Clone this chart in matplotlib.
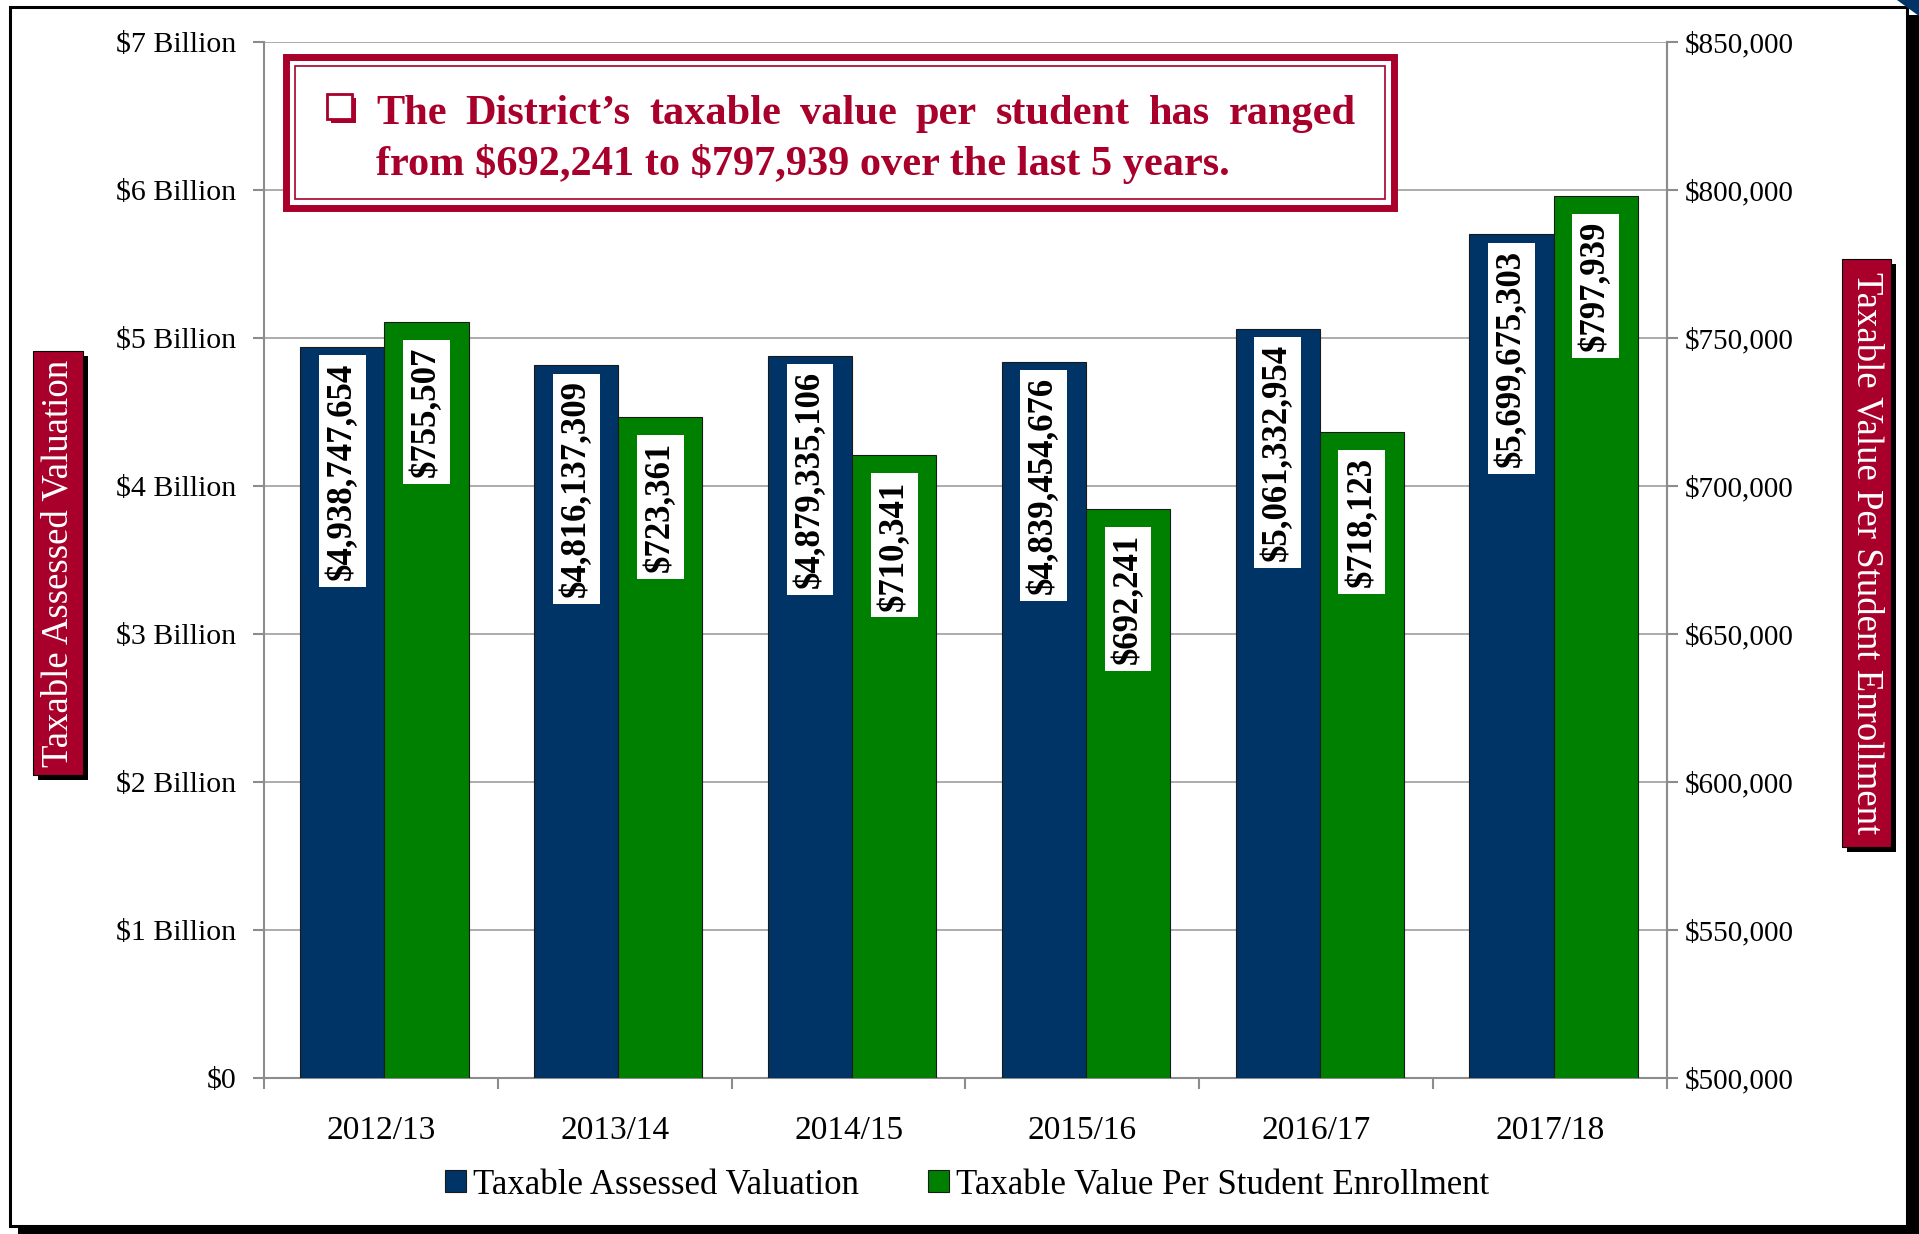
import matplotlib.pyplot as plt
from matplotlib.patches import Rectangle, Polygon
import numpy as np

# Dados do gráfico
anos = ['2012/13', '2013/14', '2014/15', '2015/16', '2016/17', '2017/18']
valor_avaliado = [4938747654, 4816137309, 4879335106, 4839454676, 5061332954, 5699675303]
valor_por_aluno = [755507, 723361, 710341, 692241, 718123, 797939]

ticks_esq = [0, 1e9, 2e9, 3e9, 4e9, 5e9, 6e9, 7e9]
rotulos_esq = ['$0', '$1 Billion', '$2 Billion', '$3 Billion', '$4 Billion',
               '$5 Billion', '$6 Billion', '$7 Billion']
ticks_dir = [500000, 550000, 600000, 650000, 700000, 750000, 800000, 850000]

legenda = ['Taxable Assessed Valuation', 'Taxable Value Per Student Enrollment']
titulo_esq = 'Taxable Assessed Valuation'
titulo_dir = 'Taxable Value Per Student Enrollment'
linha1 = 'The District\u2019s taxable value per student has ranged'
linha2 = 'from $692,241 to $797,939 over the last 5 years.'

AZUL = '#003366'
VERDE = '#008000'
VERMELHO = '#A8002B'
CINZA = '#8C8C8C'
SERIF = ['Liberation Serif', 'DejaVu Serif']

plt.rcParams['font.family'] = SERIF
plt.rcParams['text.parse_math'] = False

W, H = 1919, 1234
fig = plt.figure(figsize=(W / 100, H / 100), dpi=100)


def fx(x):
    return x / W


def fy(y):
    return 1 - y / H


# Moldura externa com sombra
fig.patches.append(Rectangle((fx(18), fy(1234)), fx(1919) - fx(18), fy(15) - fy(1234),
                             transform=fig.transFigure, fc='black', ec='none', zorder=-3))
fig.patches.append(Rectangle((fx(10), fy(1226)), fx(1907) - fx(10), fy(7) - fy(1226),
                             transform=fig.transFigure, fc='white', ec='black', lw=2.2, zorder=-2))
fig.patches.append(Polygon([(fx(1897), fy(0)), (fx(1919), fy(0)), (fx(1919), fy(16))],
                           closed=True, transform=fig.transFigure, fc=AZUL, ec='none', zorder=-1))

ax = fig.add_axes([fx(264), fy(1078), fx(1667) - fx(264), fy(42) - fy(1078)])
ax2 = ax.twinx()

x = np.arange(len(anos))
w = 0.36
d = 0.015
ax.bar(x + d - w / 2, valor_avaliado, w, color=AZUL, edgecolor='#1a1a1a', linewidth=0.8, zorder=3,
       label=legenda[0])
ax2.bar(x + d + w / 2, valor_por_aluno, w, color=VERDE, edgecolor='#1a1a1a', linewidth=0.8, zorder=3,
        label=legenda[1])

ax.set_xlim(-0.5, len(anos) - 0.5)
ax.set_ylim(0, 7e9)
ax2.set_ylim(500000, 850000)

ax.set_yticks(ticks_esq)
ax.set_yticklabels(rotulos_esq)
ax2.set_yticks(ticks_dir)
ax2.set_yticklabels([f'${v:,}' for v in ticks_dir])

ax.yaxis.grid(True, color='#A6A6A6', linewidth=1.3, zorder=0)
ax.set_axisbelow(True)

ax.set_xticks(x)
ax.set_xticklabels(anos)
ax.set_xticks(np.arange(-0.5, len(anos)), minor=True)
ax.tick_params(axis='x', which='major', length=0, pad=27, labelsize=24)
ax.tick_params(axis='x', which='minor', length=8, width=1.5, color=CINZA, direction='out')
ax.tick_params(axis='y', length=8, width=1.5, color=CINZA, pad=12, labelsize=21.5)
ax2.tick_params(axis='y', length=8, width=1.5, color=CINZA, pad=5, labelsize=21)

for a in (ax, ax2):
    a.spines['top'].set_visible(False)
    for s in ('left', 'right', 'bottom'):
        a.spines[s].set_color(CINZA)
        a.spines[s].set_linewidth(1.5)
ax2.spines['left'].set_visible(False)
ax2.spines['bottom'].set_visible(False)

# Rótulos das barras
for xi, v in zip(x, valor_avaliado):
    ax.annotate(f'${v:,}', xy=(xi + d - w / 2, v), xytext=(0, -11), textcoords='offset points',
                rotation=90, ha='center', va='top', fontsize=25, fontweight='bold',
                bbox=dict(boxstyle='square,pad=0.2', fc='white', ec='none'), zorder=6)
for xi, v in zip(x, valor_por_aluno):
    ax2.annotate(f'${v:,}', xy=(xi + d + w / 2, v), xytext=(0, -18), textcoords='offset points',
                 rotation=90, ha='center', va='top', fontsize=25, fontweight='bold',
                 bbox=dict(boxstyle='square,pad=0.2', fc='white', ec='none'), zorder=6)

# Títulos dos eixos em caixas vermelhas
for (x0, y0, x1, y1), txt, rot in [((33, 351, 83, 775), titulo_esq, 90),
                                   ((1842, 259, 1891, 847), titulo_dir, -90)]:
    fig.patches.append(Rectangle((fx(x0 + 5), fy(y1 + 5)), fx(x1) - fx(x0), fy(y0) - fy(y1),
                                 transform=fig.transFigure, fc='black', ec='none', zorder=4))
    fig.patches.append(Rectangle((fx(x0), fy(y1)), fx(x1) - fx(x0), fy(y0) - fy(y1),
                                 transform=fig.transFigure, fc=VERMELHO, ec='black', lw=0.8, zorder=5))
    fig.text(fx((x0 + x1) / 2), fy((y0 + y1) / 2), txt, rotation=rot, ha='center', va='center',
             color='white', fontsize=26.5, zorder=6)

# Caixa de destaque
bx0, by0, bx1, by1 = 286, 57, 1394, 208
fig.patches.append(Rectangle((fx(bx0), fy(by1)), fx(bx1) - fx(bx0), fy(by0) - fy(by1),
                             transform=fig.transFigure, fc='white', ec=VERMELHO, lw=5, zorder=5))
fig.patches.append(Rectangle((fx(bx0 + 9), fy(by1 - 9)), fx(bx1 - 9) - fx(bx0 + 9),
                             fy(by0 + 9) - fy(by1 - 9),
                             transform=fig.transFigure, fc='none', ec=VERMELHO, lw=1.2, zorder=6))

# Marcador quadrado com sombra
fig.patches.append(Rectangle((fx(331), fy(123)), fx(25) - fx(0), fy(0) - fy(25),
                             transform=fig.transFigure, fc=VERMELHO, ec='none', zorder=6))
fig.patches.append(Rectangle((fx(327), fy(119)), fx(25) - fx(0), fy(0) - fy(25),
                             transform=fig.transFigure, fc='white', ec=VERMELHO, lw=2, zorder=7))

props = dict(fontsize=30.5, fontweight='bold', color=VERMELHO, va='baseline', ha='left', zorder=8)
renderer = fig.canvas.get_renderer()
palavras = linha1.split()
larguras = []
for p in palavras:
    t = fig.text(0, 0, p, **props)
    larguras.append(t.get_window_extent(renderer).width)
    t.remove()
inicio, fim = 376, 1356
espaco = (fim - inicio - sum(larguras)) / (len(palavras) - 1)
pos = inicio
for p, lw_ in zip(palavras, larguras):
    fig.text(fx(pos), fy(124), p, **props)
    pos += lw_ + espaco
fig.text(fx(inicio), fy(175), linha2, **props)

# Legenda
h1, l1 = ax.get_legend_handles_labels()
h2, l2 = ax2.get_legend_handles_labels()
fig.legend(h1 + h2, l1 + l2, loc='center', bbox_to_anchor=(fx(967), fy(1185)), ncol=2,
           frameon=False, fontsize=25, handlelength=0.6, handleheight=0.6, handletextpad=0.2,
           columnspacing=2.0)

fig.savefig('out.png', dpi=100)
